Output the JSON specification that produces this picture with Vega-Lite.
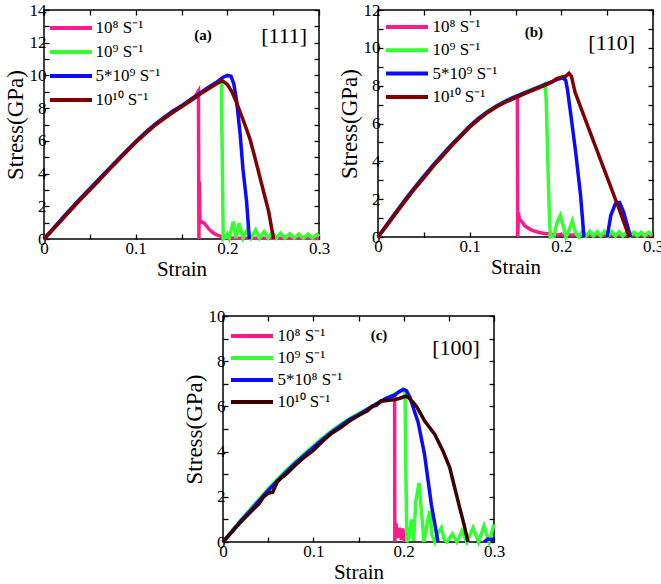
{
  "$schema": "https://vega.github.io/schema/vega-lite/v6.json",
  "padding": {"left": 3, "top": 0, "right": 0, "bottom": 0},
  "background": "white",
  "config": {
    "font": "Liberation Serif",
    "view": {"stroke": "black", "strokeWidth": 1.5},
    "axis": {
      "labelFont": "Liberation Serif", "labelFontSize": 17, "labelColor": "black",
      "titleFont": "Liberation Serif", "titleFontSize": 21, "titleFontWeight": "normal", "titleColor": "black",
      "grid": false, "domain": false, "tickColor": "black", "tickSize": -5, "tickWidth": 1.3,
      "labelOverlap": false, "labelFlush": false, "labelBound": false, "titlePadding": 2
    },
    "axisX": {"labelPadding": 6},
    "axisY": {"labelPadding": 3, "titleFontSize": 23},
    "legend": {
      "orient": "none", "title": null, "symbolType": "M-4.2,0H4.2", "symbolStrokeWidth": 4, "symbolSize": 100,
      "labelFont": "Liberation Serif", "labelFontSize": 17, "labelColor": "black", "rowPadding": 6, "labelOffset": 16, "padding": 0
    }
  },
  "resolve": {"scale": {"color": "independent"}, "legend": {"color": "independent"}},
  "spacing": 26,
  "vconcat": [
    {
      "spacing": 6,
      "resolve": {"scale": {"color": "independent"}, "legend": {"color": "independent"}},
      "hconcat": [
        {
          "width": 275, "height": 229,
          "layer": [
            {
              "data": {"values": [
                {"s":"P","x":0,"y":0},{"s":"P","x":0.01,"y":0.62},{"s":"P","x":0.02,"y":1.24},{"s":"P","x":0.03,"y":1.86},{"s":"P","x":0.04,"y":2.46},{"s":"P","x":0.05,"y":3.05},{"s":"P","x":0.06,"y":3.64},{"s":"P","x":0.07,"y":4.22},{"s":"P","x":0.08,"y":4.8},{"s":"P","x":0.09,"y":5.37},{"s":"P","x":0.1,"y":5.94},{"s":"P","x":0.11,"y":6.45},{"s":"P","x":0.12,"y":6.95},{"s":"P","x":0.13,"y":7.38},{"s":"P","x":0.14,"y":7.78},{"s":"P","x":0.15,"y":8.12},{"s":"P","x":0.16,"y":8.52},{"s":"P","x":0.165,"y":8.72},{"s":"P","x":0.1685,"y":9.05},{"s":"P","x":0.169,"y":0},{"s":"P","x":0.1695,"y":3.5},{"s":"P","x":0.1702,"y":1.0},{"s":"P","x":0.172,"y":1.05},{"s":"P","x":0.175,"y":0.95},{"s":"P","x":0.178,"y":0.75},{"s":"P","x":0.18,"y":0.6},{"s":"P","x":0.183,"y":0.45},{"s":"P","x":0.186,"y":0.32},{"s":"P","x":0.19,"y":0.22},{"s":"P","x":0.195,"y":0.12},{"s":"P","x":0.2,"y":0.08},{"s":"P","x":0.21,"y":0.05},{"s":"P","x":0.25,"y":0.05},{"s":"P","x":0.3,"y":0.05},
                {"s":"G","x":0,"y":0},{"s":"G","x":0.01,"y":0.65},{"s":"G","x":0.02,"y":1.28},{"s":"G","x":0.03,"y":1.9},{"s":"G","x":0.04,"y":2.5},{"s":"G","x":0.05,"y":3.08},{"s":"G","x":0.06,"y":3.67},{"s":"G","x":0.07,"y":4.25},{"s":"G","x":0.08,"y":4.83},{"s":"G","x":0.09,"y":5.4},{"s":"G","x":0.1,"y":5.96},{"s":"G","x":0.11,"y":6.48},{"s":"G","x":0.12,"y":6.97},{"s":"G","x":0.13,"y":7.4},{"s":"G","x":0.14,"y":7.8},{"s":"G","x":0.15,"y":8.15},{"s":"G","x":0.16,"y":8.53},{"s":"G","x":0.17,"y":8.92},{"s":"G","x":0.18,"y":9.28},{"s":"G","x":0.19,"y":9.58},{"s":"G","x":0.1935,"y":9.65},{"s":"G","x":0.1945,"y":5},{"s":"G","x":0.1955,"y":0},{"s":"G","x":0.198,"y":0.1},{"s":"G","x":0.2,"y":0.3},{"s":"G","x":0.202,"y":0.05},{"s":"G","x":0.2065,"y":1.06},{"s":"G","x":0.2095,"y":0.05},{"s":"G","x":0.2127,"y":0.96},{"s":"G","x":0.217,"y":0.05},{"s":"G","x":0.2218,"y":0.55},{"s":"G","x":0.226,"y":0.05},{"s":"G","x":0.2309,"y":0.55},{"s":"G","x":0.235,"y":0.05},{"s":"G","x":0.24,"y":0.45},{"s":"G","x":0.2445,"y":0.05},{"s":"G","x":0.249,"y":0.42},{"s":"G","x":0.2535,"y":0.05},{"s":"G","x":0.258,"y":0.36},{"s":"G","x":0.263,"y":0.05},{"s":"G","x":0.268,"y":0.33},{"s":"G","x":0.273,"y":0.05},{"s":"G","x":0.278,"y":0.3},{"s":"G","x":0.283,"y":0.05},{"s":"G","x":0.288,"y":0.3},{"s":"G","x":0.293,"y":0.05},{"s":"G","x":0.298,"y":0.28},{"s":"G","x":0.3,"y":0.15},
                {"s":"B","x":0,"y":0},{"s":"B","x":0.01,"y":0.64},{"s":"B","x":0.02,"y":1.27},{"s":"B","x":0.03,"y":1.89},{"s":"B","x":0.04,"y":2.49},{"s":"B","x":0.05,"y":3.07},{"s":"B","x":0.06,"y":3.66},{"s":"B","x":0.07,"y":4.24},{"s":"B","x":0.08,"y":4.82},{"s":"B","x":0.09,"y":5.39},{"s":"B","x":0.1,"y":5.95},{"s":"B","x":0.11,"y":6.47},{"s":"B","x":0.12,"y":6.96},{"s":"B","x":0.13,"y":7.39},{"s":"B","x":0.14,"y":7.79},{"s":"B","x":0.15,"y":8.14},{"s":"B","x":0.16,"y":8.53},{"s":"B","x":0.17,"y":8.92},{"s":"B","x":0.18,"y":9.3},{"s":"B","x":0.19,"y":9.65},{"s":"B","x":0.195,"y":9.88},{"s":"B","x":0.2,"y":10.0},{"s":"B","x":0.204,"y":9.95},{"s":"B","x":0.207,"y":9.5},{"s":"B","x":0.21,"y":8.5},{"s":"B","x":0.214,"y":6.4},{"s":"B","x":0.217,"y":4.3},{"s":"B","x":0.221,"y":2.3},{"s":"B","x":0.224,"y":0},
                {"s":"R","x":0,"y":0},{"s":"R","x":0.01,"y":0.6},{"s":"R","x":0.02,"y":1.2},{"s":"R","x":0.03,"y":1.82},{"s":"R","x":0.04,"y":2.42},{"s":"R","x":0.05,"y":3.0},{"s":"R","x":0.06,"y":3.58},{"s":"R","x":0.07,"y":4.18},{"s":"R","x":0.08,"y":4.75},{"s":"R","x":0.09,"y":5.33},{"s":"R","x":0.1,"y":5.9},{"s":"R","x":0.11,"y":6.4},{"s":"R","x":0.12,"y":6.9},{"s":"R","x":0.13,"y":7.32},{"s":"R","x":0.14,"y":7.72},{"s":"R","x":0.15,"y":8.08},{"s":"R","x":0.16,"y":8.45},{"s":"R","x":0.17,"y":8.85},{"s":"R","x":0.18,"y":9.2},{"s":"R","x":0.19,"y":9.55},{"s":"R","x":0.1945,"y":9.67},{"s":"R","x":0.2,"y":9.45},{"s":"R","x":0.205,"y":9.0},{"s":"R","x":0.21,"y":8.35},{"s":"R","x":0.215,"y":7.6},{"s":"R","x":0.22,"y":6.85},{"s":"R","x":0.225,"y":6.05},{"s":"R","x":0.23,"y":5.0},{"s":"R","x":0.235,"y":3.9},{"s":"R","x":0.24,"y":2.8},{"s":"R","x":0.245,"y":1.7},{"s":"R","x":0.2505,"y":0}
              ]},
              "mark": {"type": "line", "strokeWidth": 3.5, "clip": false, "invalid": "break-paths-show-domains"},
              "encoding": {
                "x": {"field": "x", "type": "quantitative", "scale": {"domain": [0, 0.3], "nice": false},
                      "axis": {"orient": "bottom", "title": "Strain", "values": [0,0.05,0.1,0.15,0.2,0.25,0.3], "labelExpr": "round(datum.value*20) % 2 == 0 ? format(datum.value, '~g') : ''"}},
                "y": {"field": "y", "type": "quantitative", "scale": {"domain": [0, 14], "nice": false},
                      "axis": {"orient": "left", "title": "Stress(GPa)", "values": [0,1,2,3,4,5,6,7,8,9,10,11,12,13,14], "labelExpr": "datum.value % 2 == 0 ? format(datum.value, 'd') : ''"}},
                "color": {"field": "s", "type": "nominal",
                          "scale": {"domain": ["P","G","B","R"], "range": ["#ff1a8c","#33ff33","#0a0aff","#800000"]},
                          "legend": {"legendX": 18.5, "legendY": 9.5, "labelExpr": "datum.label == 'P' ? '10⁸ S⁻¹' : datum.label == 'G' ? '10⁹ S⁻¹' : datum.label == 'B' ? '5*10⁹ S⁻¹' : '10¹⁰ S⁻¹'"}}
              }
            },
            {
              "data": {"values": [{}]},
              "mark": {"type": "text", "font": "Liberation Serif", "fontWeight": "bold", "fontSize": 15, "color": "black"},
              "encoding": {
                "x": {"datum": 0.1735, "type": "quantitative", "axis": {"orient": "top", "title": null, "labels": false, "values": [0,0.05,0.1,0.15,0.2,0.25,0.3]}},
                "y": {"datum": 12.5, "type": "quantitative", "axis": {"orient": "right", "title": null, "labels": false, "values": [0,1,2,3,4,5,6,7,8,9,10,11,12,13,14]}},
                "text": {"value": "(a)"}
              }
            },
            {
              "data": {"values": [{}]},
              "mark": {"type": "text", "font": "Liberation Serif", "fontSize": 22, "color": "black"},
              "encoding": {
                "x": {"datum": 0.262, "type": "quantitative", "axis": null},
                "y": {"datum": 12.44, "type": "quantitative", "axis": null},
                "text": {"value": "[111]"}
              }
            }
          ],
          "resolve": {"axis": {"x": "independent", "y": "independent"}}
        },
        {
          "width": 275, "height": 227,
          "layer": [
            {
              "data": {"values": [
                {"s":"P","x":0,"y":0},{"s":"P","x":0.01,"y":0.66},{"s":"P","x":0.02,"y":1.32},{"s":"P","x":0.03,"y":1.97},{"s":"P","x":0.04,"y":2.6},{"s":"P","x":0.05,"y":3.2},{"s":"P","x":0.06,"y":3.78},{"s":"P","x":0.07,"y":4.32},{"s":"P","x":0.08,"y":4.85},{"s":"P","x":0.09,"y":5.35},{"s":"P","x":0.1,"y":5.85},{"s":"P","x":0.11,"y":6.27},{"s":"P","x":0.12,"y":6.63},{"s":"P","x":0.13,"y":6.93},{"s":"P","x":0.14,"y":7.18},{"s":"P","x":0.15,"y":7.4},{"s":"P","x":0.152,"y":7.42},{"s":"P","x":0.1525,"y":0},{"s":"P","x":0.1532,"y":1.3},{"s":"P","x":0.154,"y":1.0},{"s":"P","x":0.156,"y":0.85},{"s":"P","x":0.158,"y":0.75},{"s":"P","x":0.16,"y":0.6},{"s":"P","x":0.163,"y":0.5},{"s":"P","x":0.166,"y":0.4},{"s":"P","x":0.17,"y":0.32},{"s":"P","x":0.175,"y":0.25},{"s":"P","x":0.18,"y":0.2},{"s":"P","x":0.19,"y":0.15},{"s":"P","x":0.2,"y":0.12},{"s":"P","x":0.22,"y":0.1},{"s":"P","x":0.26,"y":0.1},{"s":"P","x":0.3,"y":0.1},
                {"s":"G","x":0,"y":0},{"s":"G","x":0.01,"y":0.68},{"s":"G","x":0.02,"y":1.35},{"s":"G","x":0.03,"y":2.0},{"s":"G","x":0.04,"y":2.62},{"s":"G","x":0.05,"y":3.22},{"s":"G","x":0.06,"y":3.8},{"s":"G","x":0.07,"y":4.35},{"s":"G","x":0.08,"y":4.88},{"s":"G","x":0.09,"y":5.38},{"s":"G","x":0.1,"y":5.88},{"s":"G","x":0.11,"y":6.3},{"s":"G","x":0.12,"y":6.66},{"s":"G","x":0.13,"y":6.96},{"s":"G","x":0.14,"y":7.22},{"s":"G","x":0.15,"y":7.44},{"s":"G","x":0.16,"y":7.64},{"s":"G","x":0.17,"y":7.84},{"s":"G","x":0.18,"y":8.04},{"s":"G","x":0.182,"y":8.1},{"s":"G","x":0.1835,"y":7.3},{"s":"G","x":0.185,"y":4.5},{"s":"G","x":0.1865,"y":1.85},{"s":"G","x":0.188,"y":0},{"s":"G","x":0.192,"y":0.05},{"s":"G","x":0.1955,"y":0.8},{"s":"G","x":0.199,"y":1.15},{"s":"G","x":0.2025,"y":0.5},{"s":"G","x":0.205,"y":0},{"s":"G","x":0.208,"y":0.3},{"s":"G","x":0.212,"y":0.85},{"s":"G","x":0.2155,"y":0.2},{"s":"G","x":0.219,"y":0},{"s":"G","x":0.223,"y":0.3},{"s":"G","x":0.227,"y":0.05},{"s":"G","x":0.231,"y":0.3},{"s":"G","x":0.235,"y":0.05},{"s":"G","x":0.239,"y":0.28},{"s":"G","x":0.243,"y":0.05},{"s":"G","x":0.247,"y":0.3},{"s":"G","x":0.251,"y":0.05},{"s":"G","x":0.255,"y":0.28},{"s":"G","x":0.259,"y":0.05},{"s":"G","x":0.263,"y":0.28},{"s":"G","x":0.267,"y":0.05},{"s":"G","x":0.271,"y":0.25},{"s":"G","x":0.275,"y":0.05},{"s":"G","x":0.279,"y":0.25},{"s":"G","x":0.283,"y":0.05},{"s":"G","x":0.287,"y":0.25},{"s":"G","x":0.291,"y":0.05},{"s":"G","x":0.295,"y":0.25},{"s":"G","x":0.299,"y":0.1},
                {"s":"B","x":0,"y":0},{"s":"B","x":0.01,"y":0.67},{"s":"B","x":0.02,"y":1.34},{"s":"B","x":0.03,"y":1.99},{"s":"B","x":0.04,"y":2.61},{"s":"B","x":0.05,"y":3.21},{"s":"B","x":0.06,"y":3.79},{"s":"B","x":0.07,"y":4.33},{"s":"B","x":0.08,"y":4.86},{"s":"B","x":0.09,"y":5.36},{"s":"B","x":0.1,"y":5.86},{"s":"B","x":0.11,"y":6.28},{"s":"B","x":0.12,"y":6.64},{"s":"B","x":0.13,"y":6.94},{"s":"B","x":0.14,"y":7.2},{"s":"B","x":0.15,"y":7.42},{"s":"B","x":0.16,"y":7.62},{"s":"B","x":0.17,"y":7.82},{"s":"B","x":0.18,"y":8.02},{"s":"B","x":0.19,"y":8.22},{"s":"B","x":0.195,"y":8.32},{"s":"B","x":0.201,"y":8.42},{"s":"B","x":0.2047,"y":8.3},{"s":"B","x":0.2065,"y":7.85},{"s":"B","x":0.21,"y":6.6},{"s":"B","x":0.2156,"y":4.5},{"s":"B","x":0.221,"y":2.2},{"s":"B","x":0.2247,"y":0},{"s":"B","x":0.236,"y":null},{"s":"B","x":0.25,"y":0},{"s":"B","x":0.254,"y":1.15},{"s":"B","x":0.259,"y":1.76},{"s":"B","x":0.2636,"y":1.82},{"s":"B","x":0.268,"y":1.3},{"s":"B","x":0.272,"y":0.62},{"s":"B","x":0.2756,"y":0},
                {"s":"R","x":0,"y":0},{"s":"R","x":0.01,"y":0.63},{"s":"R","x":0.02,"y":1.28},{"s":"R","x":0.03,"y":1.92},{"s":"R","x":0.04,"y":2.55},{"s":"R","x":0.05,"y":3.12},{"s":"R","x":0.06,"y":3.72},{"s":"R","x":0.07,"y":4.25},{"s":"R","x":0.08,"y":4.8},{"s":"R","x":0.09,"y":5.3},{"s":"R","x":0.1,"y":5.8},{"s":"R","x":0.11,"y":6.22},{"s":"R","x":0.12,"y":6.6},{"s":"R","x":0.13,"y":6.9},{"s":"R","x":0.14,"y":7.15},{"s":"R","x":0.15,"y":7.36},{"s":"R","x":0.16,"y":7.58},{"s":"R","x":0.17,"y":7.78},{"s":"R","x":0.18,"y":7.98},{"s":"R","x":0.19,"y":8.2},{"s":"R","x":0.195,"y":8.38},{"s":"R","x":0.2,"y":8.45},{"s":"R","x":0.205,"y":8.5},{"s":"R","x":0.2084,"y":8.65},{"s":"R","x":0.211,"y":8.5},{"s":"R","x":0.215,"y":7.65},{"s":"R","x":0.23,"y":5.72},{"s":"R","x":0.25,"y":3.15},{"s":"R","x":0.263,"y":1.48},{"s":"R","x":0.274,"y":0}
              ]},
              "mark": {"type": "line", "strokeWidth": 3.5, "clip": false, "invalid": "break-paths-show-domains"},
              "encoding": {
                "x": {"field": "x", "type": "quantitative", "scale": {"domain": [0, 0.3], "nice": false},
                      "axis": {"orient": "bottom", "title": "Strain", "values": [0,0.05,0.1,0.15,0.2,0.25,0.3], "labelExpr": "round(datum.value*20) % 2 == 0 ? format(datum.value, '~g') : ''"}},
                "y": {"field": "y", "type": "quantitative", "scale": {"domain": [0, 12], "nice": false},
                      "axis": {"orient": "left", "title": "Stress(GPa)", "values": [0,1,2,3,4,5,6,7,8,9,10,11,12], "labelExpr": "datum.value % 2 == 0 ? format(datum.value, 'd') : ''"}},
                "color": {"field": "s", "type": "nominal",
                          "scale": {"domain": ["P","G","B","R"], "range": ["#ff1a8c","#33ff33","#0a0aff","#800000"]},
                          "legend": {"legendX": 20.5, "legendY": 8.5, "rowPadding": 5.3, "labelOffset": 17, "labelExpr": "datum.label == 'P' ? '10⁸ S⁻¹' : datum.label == 'G' ? '10⁹ S⁻¹' : datum.label == 'B' ? '5*10⁹ S⁻¹' : '10¹⁰ S⁻¹'"}}
              }
            },
            {
              "data": {"values": [{}]},
              "mark": {"type": "text", "font": "Liberation Serif", "fontWeight": "bold", "fontSize": 15, "color": "black"},
              "encoding": {
                "x": {"datum": 0.17, "type": "quantitative", "axis": {"orient": "top", "title": null, "labels": false, "values": [0,0.05,0.1,0.15,0.2,0.25,0.3]}},
                "y": {"datum": 10.84, "type": "quantitative", "axis": {"orient": "right", "title": null, "labels": false, "values": [0,1,2,3,4,5,6,7,8,9,10,11,12]}},
                "text": {"value": "(b)"}
              }
            },
            {
              "data": {"values": [{}]},
              "mark": {"type": "text", "font": "Liberation Serif", "fontSize": 22, "color": "black"},
              "encoding": {
                "x": {"datum": 0.255, "type": "quantitative", "axis": null},
                "y": {"datum": 10.26, "type": "quantitative", "axis": null},
                "text": {"value": "[110]"}
              }
            }
          ],
          "resolve": {"axis": {"x": "independent", "y": "independent"}}
        }
      ]
    },
    {
      "spacing": 0,
      "resolve": {"scale": {"color": "independent"}, "legend": {"color": "independent"}},
      "hconcat": [
        {
          "width": 138, "height": 10,
          "view": {"stroke": null},
          "data": {"values": [{}]},
          "mark": {"type": "point", "opacity": 0},
          "encoding": {}
        },
        {
          "width": 271, "height": 226,
          "layer": [
            {
              "data": {"values": [
                {"s":"P","x":0,"y":0},{"s":"P","x":0.01,"y":0.48},{"s":"P","x":0.02,"y":0.95},{"s":"P","x":0.03,"y":1.4},{"s":"P","x":0.04,"y":1.85},{"s":"P","x":0.05,"y":2.3},{"s":"P","x":0.06,"y":2.72},{"s":"P","x":0.07,"y":3.12},{"s":"P","x":0.08,"y":3.5},{"s":"P","x":0.09,"y":3.86},{"s":"P","x":0.1,"y":4.2},{"s":"P","x":0.11,"y":4.55},{"s":"P","x":0.12,"y":4.87},{"s":"P","x":0.13,"y":5.15},{"s":"P","x":0.14,"y":5.4},{"s":"P","x":0.15,"y":5.63},{"s":"P","x":0.16,"y":5.85},{"s":"P","x":0.17,"y":6.08},{"s":"P","x":0.18,"y":6.3},{"s":"P","x":0.19,"y":6.45},{"s":"P","x":0.1902,"y":0},{"s":"P","x":0.1915,"y":0.85},{"s":"P","x":0.193,"y":0.2},{"s":"P","x":0.1955,"y":0.63},{"s":"P","x":0.1975,"y":0.1},{"s":"P","x":0.199,"y":0.6},{"s":"P","x":0.2,"y":0.3},{"s":"P","x":0.201,"y":0},
                {"s":"G","x":0,"y":0},{"s":"G","x":0.01,"y":0.5},{"s":"G","x":0.02,"y":0.98},{"s":"G","x":0.03,"y":1.44},{"s":"G","x":0.04,"y":1.9},{"s":"G","x":0.05,"y":2.35},{"s":"G","x":0.06,"y":2.77},{"s":"G","x":0.07,"y":3.17},{"s":"G","x":0.08,"y":3.55},{"s":"G","x":0.09,"y":3.9},{"s":"G","x":0.1,"y":4.25},{"s":"G","x":0.11,"y":4.6},{"s":"G","x":0.12,"y":4.92},{"s":"G","x":0.13,"y":5.2},{"s":"G","x":0.14,"y":5.45},{"s":"G","x":0.15,"y":5.68},{"s":"G","x":0.16,"y":5.9},{"s":"G","x":0.17,"y":6.12},{"s":"G","x":0.18,"y":6.35},{"s":"G","x":0.19,"y":6.55},{"s":"G","x":0.195,"y":6.65},{"s":"G","x":0.1985,"y":6.75},{"s":"G","x":0.2015,"y":6.6},{"s":"G","x":0.2025,"y":3.0},{"s":"G","x":0.2035,"y":0},{"s":"G","x":0.206,"y":0.2},{"s":"G","x":0.2085,"y":1.0},{"s":"G","x":0.211,"y":0.05},{"s":"G","x":0.2135,"y":1.8},{"s":"G","x":0.217,"y":2.62},{"s":"G","x":0.2205,"y":1.0},{"s":"G","x":0.2225,"y":0},{"s":"G","x":0.2255,"y":0.7},{"s":"G","x":0.2288,"y":1.37},{"s":"G","x":0.2315,"y":0.3},{"s":"G","x":0.2345,"y":0},{"s":"G","x":0.238,"y":0.4},{"s":"G","x":0.2417,"y":0.63},{"s":"G","x":0.245,"y":0.1},{"s":"G","x":0.248,"y":0},{"s":"G","x":0.2539,"y":0.35},{"s":"G","x":0.259,"y":0},{"s":"G","x":0.2646,"y":0.49},{"s":"G","x":0.27,"y":0},{"s":"G","x":0.2768,"y":0.63},{"s":"G","x":0.283,"y":0},{"s":"G","x":0.2889,"y":0.71},{"s":"G","x":0.2945,"y":0},{"s":"G","x":0.3,"y":0.78},
                {"s":"B","x":0,"y":0},{"s":"B","x":0.01,"y":0.47},{"s":"B","x":0.02,"y":0.94},{"s":"B","x":0.03,"y":1.38},{"s":"B","x":0.04,"y":1.83},{"s":"B","x":0.05,"y":2.28},{"s":"B","x":0.06,"y":2.7},{"s":"B","x":0.07,"y":3.1},{"s":"B","x":0.08,"y":3.48},{"s":"B","x":0.09,"y":3.84},{"s":"B","x":0.1,"y":4.18},{"s":"B","x":0.11,"y":4.53},{"s":"B","x":0.12,"y":4.85},{"s":"B","x":0.13,"y":5.14},{"s":"B","x":0.14,"y":5.42},{"s":"B","x":0.15,"y":5.63},{"s":"B","x":0.16,"y":5.88},{"s":"B","x":0.17,"y":6.12},{"s":"B","x":0.18,"y":6.35},{"s":"B","x":0.19,"y":6.5},{"s":"B","x":0.195,"y":6.65},{"s":"B","x":0.2,"y":6.75},{"s":"B","x":0.203,"y":6.7},{"s":"B","x":0.207,"y":6.4},{"s":"B","x":0.211,"y":5.9},{"s":"B","x":0.216,"y":5.3},{"s":"B","x":0.223,"y":3.9},{"s":"B","x":0.2306,"y":1.67},{"s":"B","x":0.238,"y":0},{"s":"B","x":0.26,"y":null},{"s":"B","x":0.289,"y":0},{"s":"B","x":0.293,"y":0.13},{"s":"B","x":0.297,"y":0.1},{"s":"B","x":0.3,"y":0.15},
                {"s":"R","x":0,"y":0},{"s":"R","x":0.01,"y":0.45},{"s":"R","x":0.02,"y":0.9},{"s":"R","x":0.03,"y":1.3},{"s":"R","x":0.035,"y":1.5},{"s":"R","x":0.04,"y":1.7},{"s":"R","x":0.045,"y":2.0},{"s":"R","x":0.05,"y":2.15},{"s":"R","x":0.055,"y":2.2},{"s":"R","x":0.06,"y":2.65},{"s":"R","x":0.065,"y":2.85},{"s":"R","x":0.07,"y":3.0},{"s":"R","x":0.08,"y":3.4},{"s":"R","x":0.09,"y":3.75},{"s":"R","x":0.095,"y":3.9},{"s":"R","x":0.1,"y":4.05},{"s":"R","x":0.11,"y":4.45},{"s":"R","x":0.12,"y":4.8},{"s":"R","x":0.13,"y":5.05},{"s":"R","x":0.14,"y":5.35},{"s":"R","x":0.15,"y":5.6},{"s":"R","x":0.16,"y":5.8},{"s":"R","x":0.165,"y":6.0},{"s":"R","x":0.17,"y":6.05},{"s":"R","x":0.175,"y":6.25},{"s":"R","x":0.18,"y":6.25},{"s":"R","x":0.19,"y":6.3},{"s":"R","x":0.195,"y":6.35},{"s":"R","x":0.2022,"y":6.45},{"s":"R","x":0.205,"y":6.4},{"s":"R","x":0.211,"y":6.15},{"s":"R","x":0.215,"y":5.95},{"s":"R","x":0.2233,"y":5.35},{"s":"R","x":0.2343,"y":4.77},{"s":"R","x":0.2435,"y":4.03},{"s":"R","x":0.251,"y":3.29},{"s":"R","x":0.2565,"y":2.4},{"s":"R","x":0.262,"y":1.52},{"s":"R","x":0.2668,"y":0.78},{"s":"R","x":0.2712,"y":0}
              ]},
              "mark": {"type": "line", "strokeWidth": 3.5, "clip": false, "invalid": "break-paths-show-domains"},
              "encoding": {
                "x": {"field": "x", "type": "quantitative", "scale": {"domain": [0, 0.3], "nice": false},
                      "axis": {"orient": "bottom", "title": "Strain", "values": [0,0.05,0.1,0.15,0.2,0.25,0.3], "labelExpr": "round(datum.value*20) % 2 == 0 ? format(datum.value, '~g') : ''"}},
                "y": {"field": "y", "type": "quantitative", "scale": {"domain": [0, 10], "nice": false},
                      "axis": {"orient": "left", "title": "Stress(GPa)", "values": [0,1,2,3,4,5,6,7,8,9,10], "labelExpr": "datum.value % 2 == 0 ? format(datum.value, 'd') : ''"}},
                "color": {"field": "s", "type": "nominal",
                          "scale": {"domain": ["P","G","B","R"], "range": ["#ff1a8c","#33ff33","#0a0aff","#3d0000"]},
                          "legend": {"legendX": 20.5, "legendY": 11.5, "rowPadding": 4, "labelOffset": 17, "labelExpr": "datum.label == 'P' ? '10⁸ S⁻¹' : datum.label == 'G' ? '10⁹ S⁻¹' : datum.label == 'B' ? '5*10⁸ S⁻¹' : '10¹⁰ S⁻¹'"}}
              }
            },
            {
              "data": {"values": [{}]},
              "mark": {"type": "text", "font": "Liberation Serif", "fontWeight": "bold", "fontSize": 15, "color": "black"},
              "encoding": {
                "x": {"datum": 0.1727, "type": "quantitative", "axis": {"orient": "top", "title": null, "labels": false, "values": [0,0.05,0.1,0.15,0.2,0.25,0.3]}},
                "y": {"datum": 9.16, "type": "quantitative", "axis": {"orient": "right", "title": null, "labels": false, "values": [0,1,2,3,4,5,6,7,8,9,10]}},
                "text": {"value": "(c)"}
              }
            },
            {
              "data": {"values": [{}]},
              "mark": {"type": "text", "font": "Liberation Serif", "fontSize": 22, "color": "black"},
              "encoding": {
                "x": {"datum": 0.258, "type": "quantitative", "axis": null},
                "y": {"datum": 8.58, "type": "quantitative", "axis": null},
                "text": {"value": "[100]"}
              }
            }
          ],
          "resolve": {"axis": {"x": "independent", "y": "independent"}}
        }
      ]
    }
  ]
}
